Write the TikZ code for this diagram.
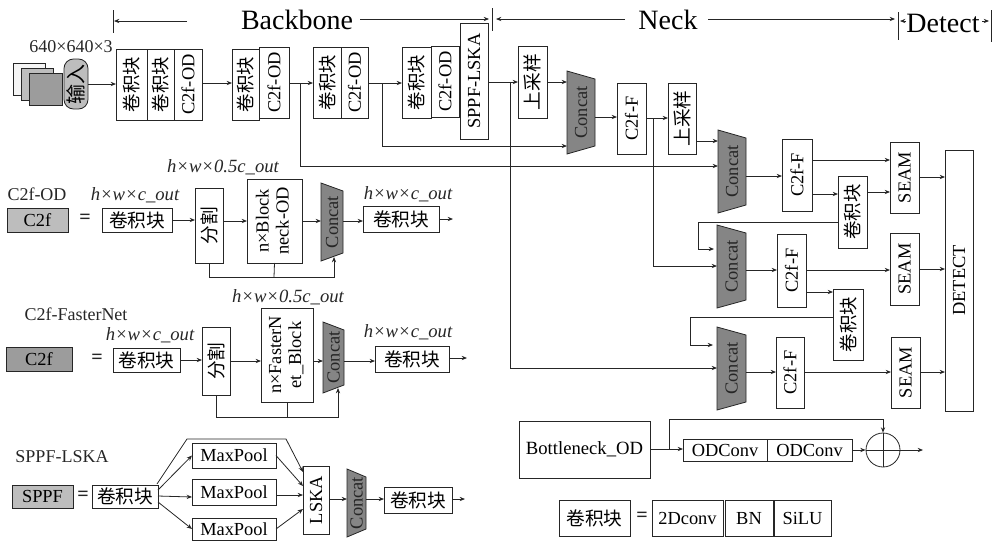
\documentclass[tikz,border=0pt]{standalone}
\usepackage{graphicx}
\usepackage{fontspec}
\setmainfont{Liberation Serif}
\newfontfamily\cjk{Noto Sans CJK SC}
\usetikzlibrary{arrows.meta,positioning,calc}
\definecolor{ink}{HTML}{262626}
\definecolor{edgegray}{HTML}{555555}
\definecolor{concatgray}{HTML}{858585}
\definecolor{softgray}{HTML}{BDBDBD}
\definecolor{midgray}{HTML}{9C9C9C}
\newcommand{\vtext}[1]{\rotatebox{90}{#1}}
\newcommand{\juan}{{\cjk 卷积块}}
\newcommand{\concatnode}[5]{%
  \draw[concatline] (#2,#3) -- ++(#4,8) -- ++(0,#5-16) -- ++(-#4,8) -- cycle;
  \node[concatlabel,boxsize={#4}{#5}] (#1) at (#2+#4/2,#3+#5/2) {\vtext{Concat}};}
\tikzset{
    every picture/.style={line cap=butt,line join=miter},
    boxsize/.style 2 args={minimum width=#1*0.75pt,minimum height=#2*0.75pt},
    blockbox/.style={draw=ink,fill=white,line width=0.65pt,inner sep=0pt,outer sep=0pt,
      font=\fontsize{13.8}{15}\selectfont,align=center},
    graybox/.style={blockbox,fill=softgray},
    concatline/.style={draw=ink,fill=concatgray,line width=0.6pt},
    concatlabel/.style={inner sep=0pt,outer sep=0pt,text=ink,font=\fontsize{13.8}{15}\selectfont},
    flowarrow/.style={-{Stealth[length=4pt,width=3.2pt]},draw=ink,line width=0.6pt},
    flowline/.style={draw=ink,line width=0.6pt},
    sizelabel/.style={inner sep=0pt,text=ink,font=\fontsize{14}{16}\selectfont\itshape},
    titlelabel/.style={inner sep=0pt,text=ink,font=\fontsize{13.5}{15}\selectfont},
    headlabel/.style={inner sep=0pt,text=black,font=\fontsize{21}{24}\selectfont},
    eqlabel/.style={inner sep=0pt,text=ink,font=\fontsize{15}{16}\selectfont\bfseries}
}
\begin{document}
\begin{tikzpicture}[x=0.75pt,y=-0.75pt]
  \useasboundingbox (0,0) rectangle (995,540);
  % heading
  \node[headlabel] (backbone) at (297,20){Backbone};
  \node[headlabel] (neck) at (668,20){Neck};
  \node[headlabel] (detect) at (943,23){Detect};
  \coordinate (t0a) at (113,10); \coordinate (t0b) at (113,33);
  \coordinate (t1a) at (492,8); \coordinate (t1b) at (492,31);
  \coordinate (t2a) at (898,12); \coordinate (t2b) at (898,40);
  \coordinate (t3a) at (991,10); \coordinate (t3b) at (991,42);
  \draw[flowline] (t0a)--(t0b);
  \draw[flowline] (t1a)--(t1b);
  \draw[flowline] (t2a)--(t2b);
  \draw[flowline] (t3a)--(t3b);
  \coordinate (a0) at (187,21); \coordinate (a0e) at (114,21);
  \coordinate (a1) at (360,19); \coordinate (a1e) at (489,19);
  \coordinate (a2) at (625,19); \coordinate (a2e) at (496,19);
  \coordinate (a3) at (708,19); \coordinate (a3e) at (895,19);
  \coordinate (a4) at (906,21); \coordinate (a4e) at (900,21);
  \coordinate (a5) at (982,21); \coordinate (a5e) at (989,21);
  \draw[flowarrow] (a0)--(a0e);
  \draw[flowarrow] (a1)--(a1e);
  \draw[flowarrow] (a2)--(a2e);
  \draw[flowarrow] (a3)--(a3e);
  \draw[flowarrow] (a4)--(a4e);
  \draw[flowarrow] (a5)--(a5e);
  % input
  \node[titlelabel] (insize) at (71,47){640×640×3};
  \node[blockbox,boxsize={32}{32},fill=gray!8] (img1) at (29,79){};
  \node[blockbox,boxsize={32}{32},fill=softgray] (img2) at (37,84){};
  \node[blockbox,boxsize={33}{32},fill=midgray] (img3) at (45.5,89){};
  \node[graybox,boxsize={24}{50},rounded corners=2.5mm,font=\fontsize{15}{16}\selectfont\cjk] (input) at (76,84){\vtext{输入}};
  % backbone
  \node[blockbox,boxsize={31}{71}] (juana) at (131.5,84.5){\vtext{\juan}};
  \node[blockbox,boxsize={27}{71}] (juanb) at (160.5,84.5){\vtext{\juan}};
  \node[blockbox,boxsize={28}{71}] (c2fa) at (188,84.5){\vtext{C2f-OD}};
  \node[blockbox,boxsize={27}{71}] (juanc) at (245.5,84.5){\vtext{\juan}};
  \node[blockbox,boxsize={30}{71}] (c2fb) at (274,82.5){\vtext{C2f-OD}};
  \node[blockbox,boxsize={28}{71}] (juand) at (327,82.5){\vtext{\juan}};
  \node[blockbox,boxsize={27}{71}] (c2fc) at (354.5,82.5){\vtext{C2f-OD}};
  \node[blockbox,boxsize={29}{71}] (juane) at (416.5,82.5){\vtext{\juan}};
  \node[blockbox,boxsize={28}{71}] (c2fd) at (445,81.5){\vtext{C2f-OD}};
  \node[blockbox,boxsize={28}{116}] (sppf) at (474,81){\vtext{SPPF-LSKA}};
  \draw[flowarrow] (input.east |- 0,84)--(juana.west |- 0,84);
  \draw[flowarrow] (c2fa.east |- 0,83)--(juanc.west |- 0,83);
  \draw[flowarrow] (c2fb.east |- 0,83)--(juand.west |- 0,83);
  \draw[flowarrow] (c2fc.east |- 0,83)--(juane.west |- 0,83);
  % neck
  \node[blockbox,boxsize={29}{72},font=\fontsize{14}{15}\selectfont\cjk] (upa) at (532.5,82){\vtext{上采样}};
  \concatnode{cata}{567}{71}{28}{83}
  \node[blockbox,boxsize={29}{71}] (c2ffa) at (631.5,118.5){\vtext{C2f-F}};
  \node[blockbox,boxsize={28}{71},font=\fontsize{14}{15}\selectfont\cjk] (upb) at (682,118.5){\vtext{上采样}};
  \concatnode{catb}{718}{130}{28}{83}
  \node[blockbox,boxsize={30}{72}] (c2ffb) at (797,175){\vtext{C2f-F}};
  \node[blockbox,boxsize={29}{71}] (seama) at (904.5,177.5){\vtext{SEAM}};
  \node[blockbox,boxsize={29}{72}] (juanf) at (852.5,212){\vtext{\juan}};
  \node[blockbox,boxsize={28}{261}] (detectbox) at (959,280.5){\vtext{DETECT}};
  \concatnode{catc}{717}{225}{29}{83}
  \node[blockbox,boxsize={29}{73}] (c2ffc) at (791.5,270.5){\vtext{C2f-F}};
  \node[blockbox,boxsize={29}{72}] (seamb) at (904.5,269){\vtext{SEAM}};
  \node[blockbox,boxsize={30}{71}] (juang) at (848,324.5){\vtext{\juan}};
  \concatnode{catd}{717}{327}{29}{83}
  \node[blockbox,boxsize={28}{71}] (c2ffd) at (790,372.5){\vtext{C2f-F}};
  \node[blockbox,boxsize={29}{71}] (seamc) at (905.5,372.5){\vtext{SEAM}};
  \draw[flowarrow] (sppf.east |- 0,82)--(upa.west |- 0,82);
  \draw[flowarrow] (upa.east |- 0,82)--(cata.west |- 0,82);
  \draw[flowarrow] (c2fc.east |- 0,83)-|(382,146)--(cata.west |- 0,146);
  \draw[flowarrow] (c2fb.east |- 0,83)-|(300,166)--(catb.west |- 0,166);
  \draw[flowarrow] (510,82)|-(catd.west |- 0,368);
  \draw[flowarrow] (cata.east |- 0,117)--(c2ffa.west |- 0,117);
  \draw[flowarrow] (c2ffa.east |- 0,118)--(upb.west |- 0,118);
  \draw[flowarrow] (653,118)|-(catc.west |- 0,266);
  \draw[flowarrow] (upb.east |- 0,141)--(catb.west |- 0,141);
  \draw[flowarrow] (catb.east |- 0,176)--(c2ffb.west |- 0,176);
  \draw[flowarrow] (c2ffb.east |- 0,160)--(seama.west |- 0,160);
  \draw[flowarrow] (c2ffb.east |- 0,194)--(juanf.west |- 0,194);
  \draw[flowarrow] (juanf.east |- 0,192)--(seama.west |- 0,192);
  \draw[flowarrow] (seama.east |- 0,177)--(detectbox.west |- 0,177);
  \draw[flowarrow] (juanf.west |- 0,222)-|(698,249)--(714,249);
  \draw[flowarrow] (catc.east |- 0,270)--(c2ffc.west |- 0,270);
  \draw[flowarrow] (c2ffc.east |- 0,270)--(seamb.west |- 0,270);
  \draw[flowarrow] (seamb.east |- 0,269)--(detectbox.west |- 0,269);
  \draw[flowarrow] (c2ffc.east |- 0,292)--(juang.west |- 0,292);
  \draw[flowarrow] (juang.west |- 0,317)-|(690,345)--(713,345);
  \draw[flowarrow] (catd.east |- 0,372)--(c2ffd.west |- 0,372);
  \draw[flowarrow] (c2ffd.east |- 0,372)--(seamc.west |- 0,372);
  \draw[flowarrow] (seamc.east |- 0,372)--(detectbox.west |- 0,372);
  % bottleneck
  \node[blockbox,boxsize={131}{57},font=\fontsize{14}{15}\selectfont] (bottle) at (584.5,449.5){Bottleneck\_OD};
  \node[blockbox,boxsize={84}{22}] (oda) at (725,450){ODConv};
  \node[blockbox,boxsize={85}{22}] (odb) at (809.5,450){ODConv};
  \node[draw=ink,circle,line width=0.6pt,inner sep=0pt,minimum size=34*0.75pt] (plus) at (883,450){};
  \coordinate (plusout) at (923,450);
  \draw[flowarrow] (bottle.east |- 0,449)--(oda.west |- 0,449);
  \draw[flowarrow] (669,449)|-(883,419)--(plus.north);
  \draw[flowarrow] (odb.east)--(plus.west);
  \draw[flowarrow] (plus.west)--(plusout);
  \draw[flowline] (plus.north)--(plus.south);
  % legend
  \node[blockbox,boxsize={71}{36},font=\fontsize{14}{15}\selectfont] (juanl) at (594.5,518){\juan};
  \node[eqlabel] (eql) at (642,517){=};
  \node[blockbox,boxsize={71}{36}] (conv) at (687.5,518){2Dconv};
  \node[blockbox,boxsize={48}{36}] (bn) at (749,518){BN};
  \node[blockbox,boxsize={57}{36}] (silu) at (802.5,518){SiLU};
  % C2f-OD
  \node[titlelabel] (odtitle) at (37,194){C2f-OD};
  \node[sizelabel] (oda1) at (135,195){h×w×c\_out};
  \node[sizelabel] (oda2) at (223,167){h×w×0.5c\_out};
  \node[sizelabel] (oda3) at (408,194){h×w×c\_out};
  \node[graybox,boxsize={61}{24}] (odc2f) at (37.5,220){C2f};
  \node[eqlabel] (eqa) at (85,219){=};
  \node[blockbox,boxsize={70}{24},font=\fontsize{14}{15}\selectfont] (odjuan) at (137,220){\juan};
  \node[blockbox,boxsize={28}{75},font=\fontsize{14}{15}\selectfont\cjk] (odsplit) at (209,225.5){\vtext{分割}};
  \node[blockbox,boxsize={55}{84}] (odblock) at (274.5,221){\vtext{\begin{tabular}{@{}c@{}}n×Block\\neck-OD\end{tabular}}};
  \concatnode{odcat}{321}{183}{22}{78}
  \node[blockbox,boxsize={76}{26},font=\fontsize{14}{15}\selectfont] (odout) at (401,219){\juan};
  \coordinate (odend) at (453,219);
  \draw[flowarrow] (odjuan.east)--(odsplit.west |- odjuan.east);
  \draw[flowarrow] (odsplit.east |- 0,221)--(odblock.west |- 0,221);
  \draw[flowarrow] (odblock.east |- 0,221)--(odcat.west |- 0,221);
  \draw[flowarrow] (odcat.east |- 0,221)--(odout.west |- 0,221);
  \draw[flowarrow] (odout.east)--(odend);
  \draw[flowarrow] (odsplit.south)|-(334,277)--(334,257);
  \draw[flowline] (odblock.south)--(274,277);
  % C2f-FasterNet
  \node[titlelabel] (fntitle) at (76,314){C2f-FasterNet};
  \node[sizelabel] (fna1) at (150,335){h×w×c\_out};
  \node[sizelabel] (fna2) at (288,297){h×w×0.5c\_out};
  \node[sizelabel] (fna3) at (408,332){h×w×c\_out};
  \node[graybox,boxsize={66}{24},fill=midgray] (fnc2f) at (39,359){C2f};
  \node[eqlabel] (eqb) at (97,359){=};
  \node[blockbox,boxsize={67}{24},font=\fontsize{14}{15}\selectfont] (fnjuan) at (146.5,360){\juan};
  \node[blockbox,boxsize={28}{68},font=\fontsize{14}{15}\selectfont\cjk] (fnsplit) at (216,361){\vtext{分割}};
  \node[blockbox,boxsize={52}{94}] (fnblock) at (287,355){\vtext{\begin{tabular}{@{}c@{}}n×FasterN\\et\_Block\end{tabular}}};
  \concatnode{fncat}{323}{322}{21}{71}
  \node[blockbox,boxsize={74}{26},font=\fontsize{14}{15}\selectfont] (fnout) at (412,359){\juan};
  \coordinate (fnend) at (467,358);
  \draw[flowarrow] (fnjuan.east)--(fnsplit.west |- fnjuan.east);
  \draw[flowarrow] (fnsplit.east |- 0,361)--(fnblock.west |- 0,361);
  \draw[flowarrow] (fnblock.east |- 0,361)--(fncat.west |- 0,361);
  \draw[flowarrow] (fncat.east |- 0,361)--(fnout.west |- 0,361);
  \draw[flowarrow] (fnout.east |- 0,358)--(fnend);
  \draw[flowarrow] (fnsplit.south)|-(338,417)--(338,388);
  \draw[flowline] (fnblock.south)--(287,417);
  % SPPF-LSKA
  \node[titlelabel] (sptitle) at (62,457){SPPF-LSKA};
  \node[graybox,boxsize={61}{23}] (spbox) at (42.5,496.5){SPPF};
  \node[eqlabel] (eqc) at (83,496){=};
  \node[blockbox,boxsize={66}{23},font=\fontsize{14}{15}\selectfont] (spjuan) at (125,496.5){\juan};
  \node[blockbox,boxsize={84}{25}] (poola) at (234,455.5){MaxPool};
  \node[blockbox,boxsize={84}{26}] (poolb) at (234,492){MaxPool};
  \node[blockbox,boxsize={84}{22}] (poolc) at (234,529){MaxPool};
  \node[blockbox,boxsize={26}{68}] (lska) at (316,500){\vtext{LSKA}};
  \concatnode{spcat}{347}{469}{19}{68}
  \node[blockbox,boxsize={68}{26},font=\fontsize{14}{15}\selectfont] (spout) at (418,500){\juan};
  \coordinate (spend) at (465,499);
  \draw[flowarrow] (158,490)--(poola.west);
  \draw[flowarrow] (158,496)--(poolb.west |- 0,497);
  \draw[flowarrow] (158,502)--(poolc.west);
  \draw[flowarrow] (157,484)--(187,439)--(286,439)--(lska.west |- 0,472);
  \draw[flowarrow] (poola.east)--(lska.west |- 0,486);
  \draw[flowarrow] (poolb.east |- 0,495)--(lska.west |- 0,495);
  \draw[flowarrow] (poolc.east)--(lska.west |- 0,509);
  \draw[flowarrow] (lska.east |- 0,499)--(spcat.west |- 0,499);
  \draw[flowarrow] (spcat.east |- 0,499)--(spout.west |- 0,499);
  \draw[flowarrow] (spout.east |- 0,499)--(spend);
\end{tikzpicture}
\end{document}
